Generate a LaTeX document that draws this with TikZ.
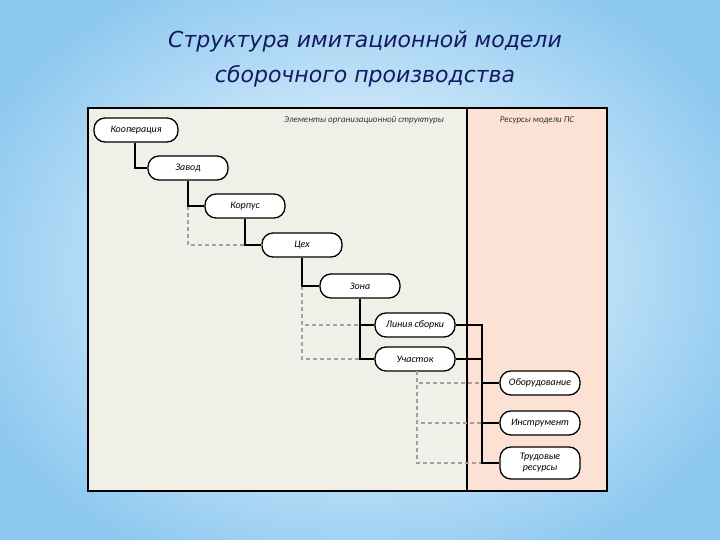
\documentclass[tikz,border=0pt]{standalone}
\usepackage{fontspec}
\setmainfont{Carlito}
\newfontfamily\titlefont{DejaVu Sans}
\definecolor{bgblue}{RGB}{140,200,240}
\definecolor{panel}{RGB}{240,240,232}
\definecolor{pinkp}{RGB}{252,226,212}
\definecolor{titleblue}{RGB}{20,25,100}
\definecolor{dashg}{RGB}{160,160,160}
\tikzset{
 unit/.style={rounded corners=11pt,draw=black,line width=1.3pt,fill=white,minimum width=80pt,minimum height=24pt,font=\itshape\fontsize{10}{11}\selectfont,inner sep=1pt,align=center},
 solidc/.style={line width=1.3pt},
 dashc/.style={dashg,line width=1.1pt,dash pattern=on 4pt off 3pt},
 hdr/.style={font=\itshape\fontsize{9}{10}\selectfont,text=black!80},
}
\begin{document}
\begin{tikzpicture}[x=1pt,y=-1pt]
\useasboundingbox (0,0) rectangle (720,540);
\clip (0,0) rectangle (720,540);
\shade[inner color=white,outer color=bgblue] (-60,-60) rectangle (780,600);
\node[font=\titlefont\itshape\fontsize{22}{35}\selectfont,text=titleblue,align=center] (title) at (365,59) {Структура имитационной модели\\сборочного производства};
\fill[panel] (88,108) rectangle (467,491);
\fill[pinkp] (467,108) rectangle (607,491);
\draw[line width=1.2pt] (88,108) rectangle (607,491);
\draw[line width=1.6pt] (467,108) -- (467,491);
\node[hdr] (h1) at (364,120) {Элементы организационной структуры};
\node[hdr] (h2) at (537,120) {Ресурсы модели ПС};
\node[unit,minimum width=84pt] (koop) at (136,130) {Кооперация};
\node[unit] (zav) at (188,168) {Завод};
\node[unit] (korp) at (245,206) {Корпус};
\node[unit] (cex) at (302,245) {Цех};
\node[unit] (zon) at (360,286) {Зона};
\node[unit] (lin) at (415,325) {Линия сборки};
\node[unit] (uch) at (415,359) {Участок};
\node[unit] (obo) at (540,383) {Оборудование};
\node[unit] (ins) at (540,423) {Инструмент};
\node[unit,minimum height=32pt] (tru) at (540,463) {Трудовые\\ресурсы};
\coordinate (c1) at (188,206);
\coordinate (c2) at (302,286);
\coordinate (c3) at (417,371);
\coordinate (bus) at (482,325);
% dashed
\draw[dashc] (c1) |- (cex.west);
\draw[dashc] (c2) |- (lin.west);
\draw[dashc] (c2) |- (uch.west);
\draw[dashc] (c3) |- (obo.west);
\draw[dashc] (c3) |- (ins.west);
\draw[dashc] (c3) |- (tru.west);
% solid
\draw[solidc] (koop.south) ++(-1,0) |- (zav.west);
\draw[solidc] (zav.south) |- (korp.west);
\draw[solidc] (korp.south) |- (cex.west);
\draw[solidc] (cex.south) |- (zon.west);
\draw[solidc] (zon.south) |- (lin.west);
\draw[solidc] (zon.south) |- (uch.west);
\draw[solidc] (lin.east) -| (bus) |- (tru.west);
\draw[solidc] (uch.east) -- (uch.east -| bus);
\draw[solidc] (bus) |- (obo.west);
\draw[solidc] (bus) |- (ins.west);
\end{tikzpicture}
\end{document}
